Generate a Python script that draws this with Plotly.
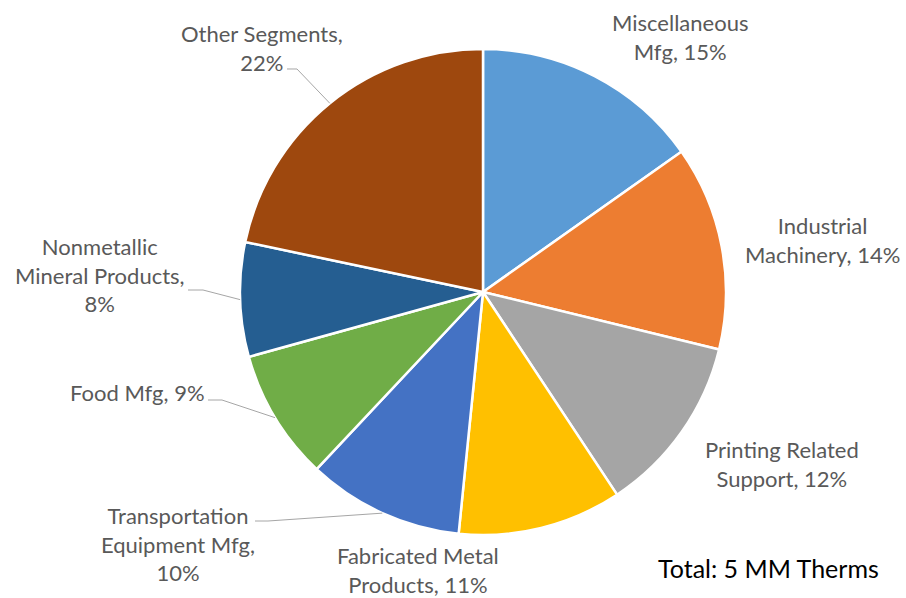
import math
import plotly.graph_objects as go

# Segment names, shares of total therms (percent) and slice colours
segments = [
    "Miscellaneous Mfg",
    "Industrial Machinery",
    "Printing Related Support",
    "Fabricated Metal Products",
    "Transportation Equipment Mfg",
    "Food Mfg",
    "Nonmetallic Mineral Products",
    "Other Segments",
]
shares = [15.2, 13.6, 11.9, 10.9, 10.4, 8.7, 7.6, 21.7]
colors = ["#5B9BD5", "#ED7D31", "#A5A5A5", "#FFC000",
          "#4472C4", "#70AD47", "#255E91", "#9E480E"]

# How each label is broken over lines
label_lines = [
    ["Miscellaneous", "Mfg, {p}%"],
    ["Industrial", "Machinery, {p}%"],
    ["Printing Related", "Support, {p}%"],
    ["Fabricated Metal", "Products, {p}%"],
    ["Transportation", "Equipment Mfg,", "{p}%"],
    ["Food Mfg, {p}%"],
    ["Nonmetallic", "Mineral Products,", "{p}%"],
    ["Other Segments,", "{p}%"],
]
total_text = "Total: 5 MM Therms"

W, H = 906, 598
CX, CY, R = 483, 292, 243  # pie centre and radius in pixels


def px(x):
    return x / W


def py(y):
    return (H - y) / H


# Label block centres (pixels) and optional leader-line start points
label_pos = [(680, 37), (822, 240), (782, 464), (418, 570),
             (178, 544), (137, 392), (100, 275), (262, 48)]
leader_start = [None, None, None, None,
                [(255, 521), (268, 521)],
                [(208, 400), (222, 400)],
                [(188, 290), (203, 290)],
                [(287, 69), (297, 69)]]

fig = go.Figure(go.Pie(
    labels=segments,
    values=shares,
    sort=False,
    direction="clockwise",
    rotation=0,
    textinfo="none",
    hoverinfo="label+percent",
    marker=dict(colors=colors, line=dict(color="white", width=2.5)),
    domain=dict(x=[px(CX - R), px(CX + R)], y=[py(CY + R), py(CY - R)]),
    showlegend=False,
))

total = sum(shares)
cum = 0.0
annotations = []
shapes = []
label_font = dict(family="Lato", size=22, color="#595959")
for i, v in enumerate(shares):
    pct = round(100 * v / total)
    mid = (cum + v / 2) / total * 2 * math.pi
    cum += v
    text = "<br>".join(s.format(p=pct) for s in label_lines[i])
    lx, ly = label_pos[i]
    annotations.append(dict(
        x=px(lx), y=py(ly), xref="paper", yref="paper",
        text=text, showarrow=False, align="center",
        xanchor="center", yanchor="middle", font=label_font,
    ))
    if leader_start[i]:
        ex = CX + R * math.sin(mid)
        ey = CY - R * math.cos(mid)
        pts = leader_start[i] + [(ex, ey)]
        path = "M " + " L ".join(f"{px(x):.5f},{py(y):.5f}" for x, y in pts)
        shapes.append(dict(type="path", path=path, xref="paper", yref="paper",
                           line=dict(color="#A6A6A6", width=1)))

annotations.append(dict(
    x=px(768), y=py(568), xref="paper", yref="paper", text=total_text,
    showarrow=False, xanchor="center", yanchor="middle",
    font=dict(family="Lato", size=25, color="#000000"),
))

fig.update_layout(
    width=W, height=H,
    margin=dict(l=0, r=0, t=0, b=0),
    paper_bgcolor="white",
    plot_bgcolor="white",
    annotations=annotations,
    shapes=shapes,
)

fig.write_html("out.html")
